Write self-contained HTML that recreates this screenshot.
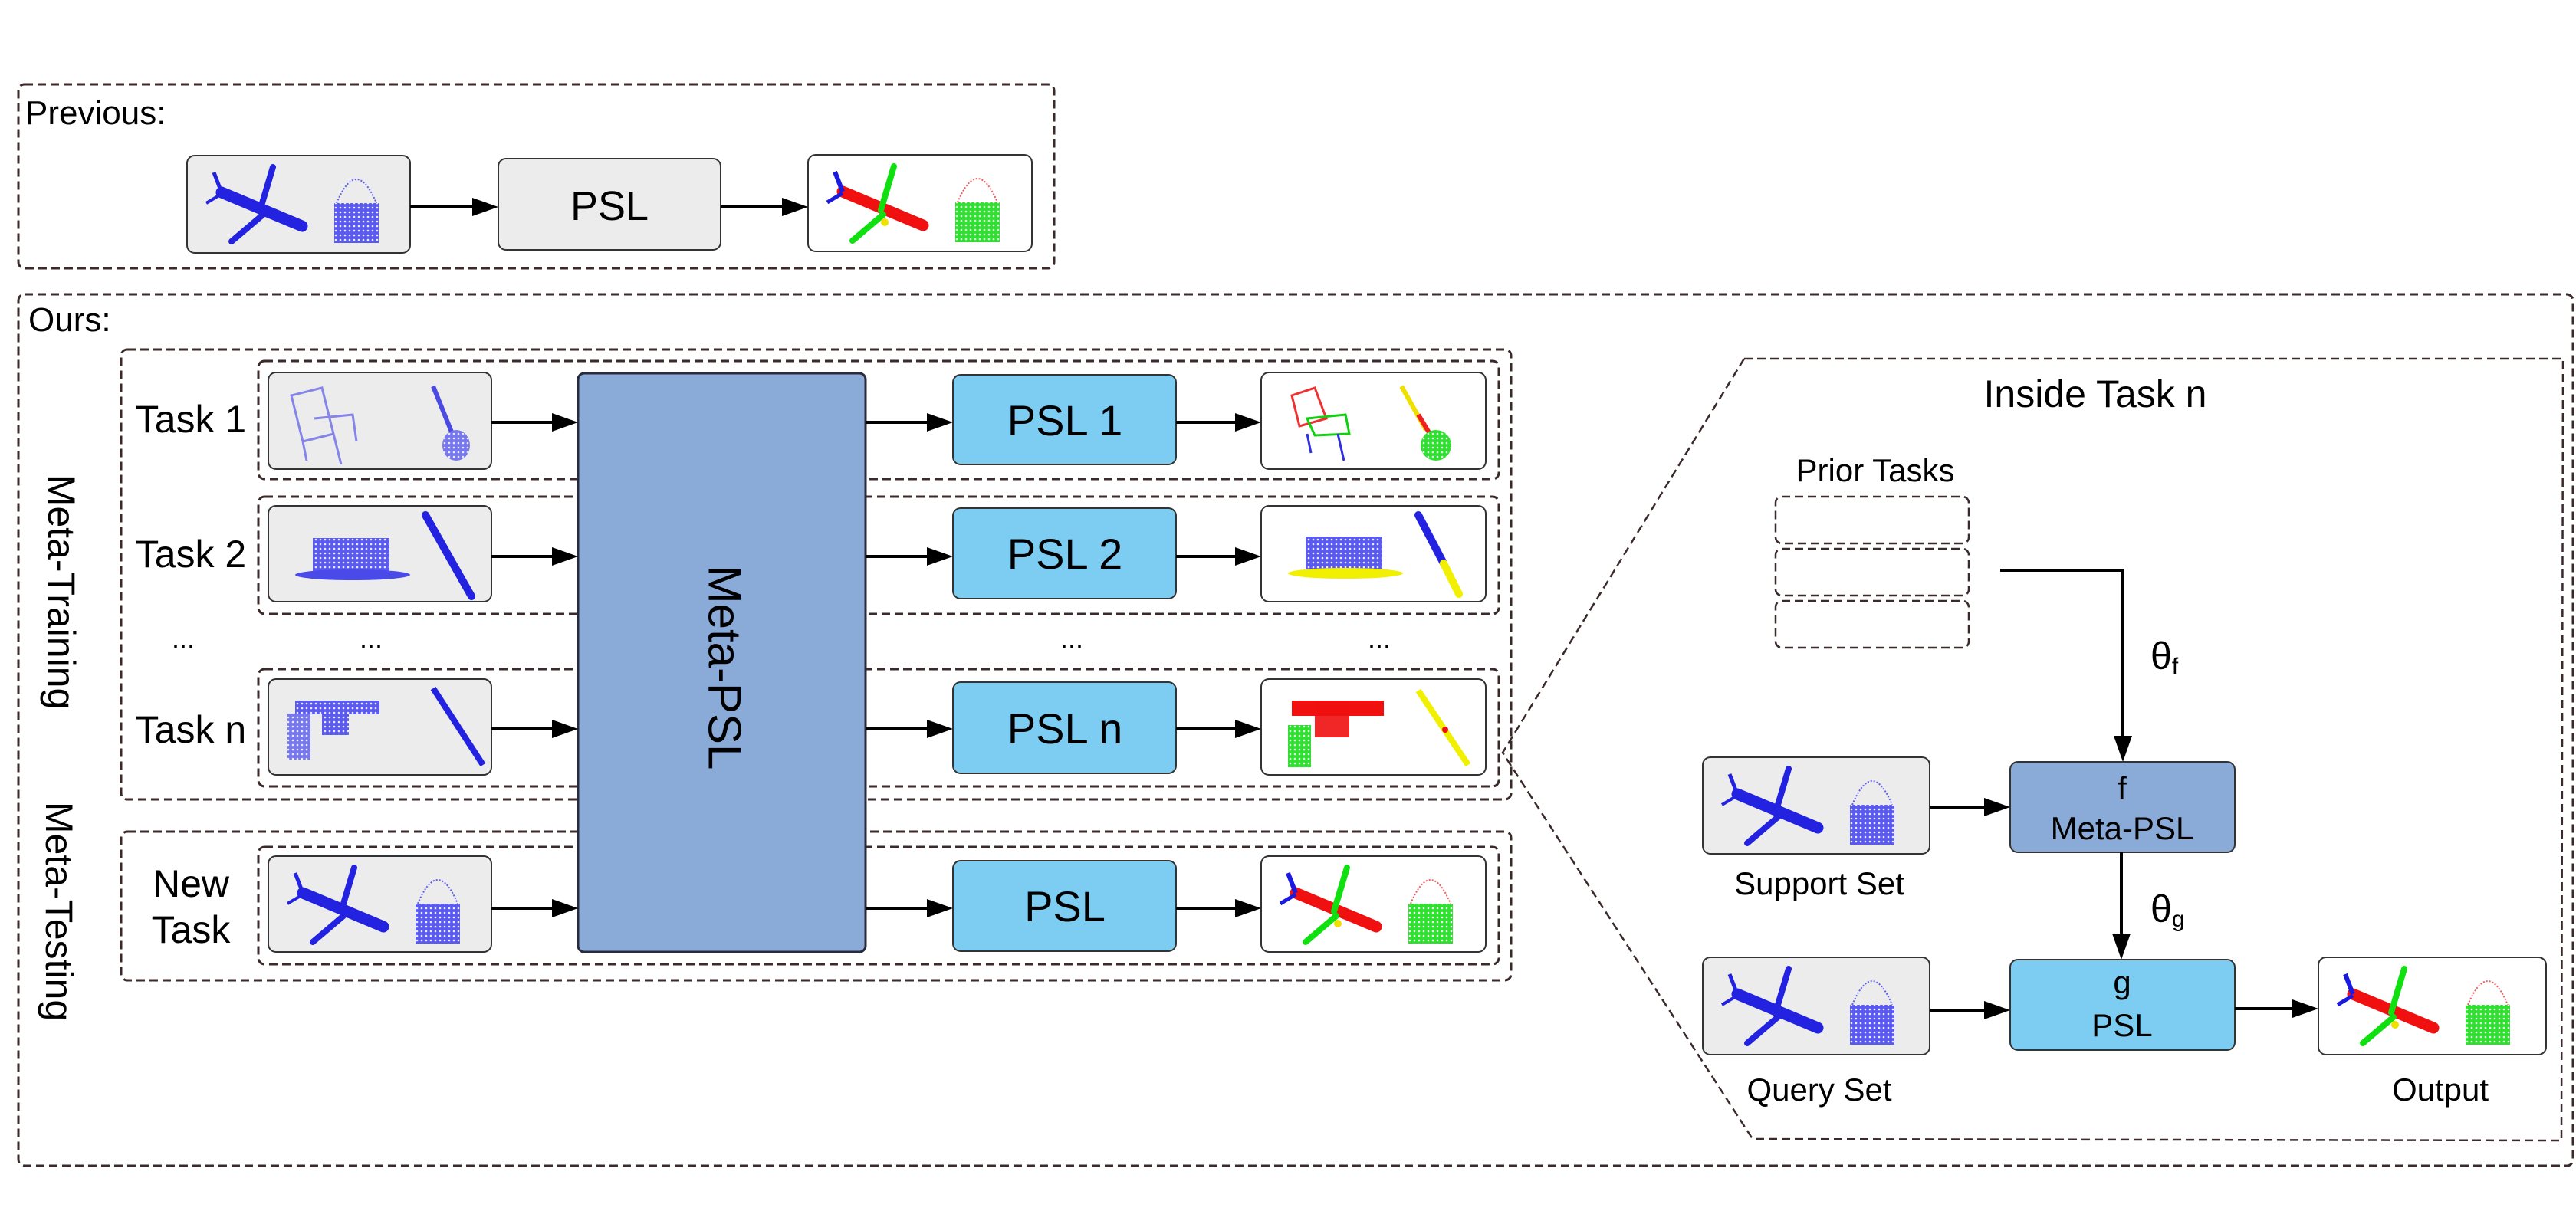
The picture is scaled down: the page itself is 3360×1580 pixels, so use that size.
<!DOCTYPE html>
<html><head><meta charset="utf-8"><style>
html,body{margin:0;padding:0;background:#fff;width:3360px;height:1580px;overflow:hidden}
text{font-family:"Liberation Sans",sans-serif;fill:#000}
</style></head><body>
<svg width="3360" height="1580" viewBox="0 0 3360 1580" xmlns="http://www.w3.org/2000/svg">
<defs>
<pattern id="dotB" width="6" height="6" patternUnits="userSpaceOnUse"><rect width="6" height="6" fill="#5a5af0"/><circle cx="2" cy="2" r="1.3" fill="#eef"/></pattern>
<pattern id="dotG" width="6" height="6" patternUnits="userSpaceOnUse"><rect width="6" height="6" fill="#30e030"/><circle cx="2" cy="2" r="1.3" fill="#efe"/></pattern>
<g id="planeB">
 <line x1="45" y1="48" x2="150" y2="92" stroke="#2222e0" stroke-width="15" stroke-linecap="round"/>
 <line x1="95" y1="72" x2="112" y2="15" stroke="#2222e0" stroke-width="8" stroke-linecap="round"/>
 <line x1="98" y1="78" x2="58" y2="112" stroke="#2222e0" stroke-width="8" stroke-linecap="round"/>
 <line x1="45" y1="48" x2="35" y2="22" stroke="#2222e0" stroke-width="5"/>
 <line x1="45" y1="50" x2="25" y2="62" stroke="#2222e0" stroke-width="4"/>
</g>
<g id="planeS">
 <line x1="45" y1="48" x2="150" y2="92" stroke="#f01010" stroke-width="15" stroke-linecap="round"/>
 <line x1="95" y1="72" x2="112" y2="15" stroke="#10e010" stroke-width="8" stroke-linecap="round"/>
 <line x1="98" y1="78" x2="58" y2="112" stroke="#10e010" stroke-width="8" stroke-linecap="round"/>
 <line x1="45" y1="48" x2="35" y2="22" stroke="#1a1ae0" stroke-width="6"/>
 <line x1="45" y1="50" x2="25" y2="62" stroke="#1a1ae0" stroke-width="5"/>
 <circle cx="100" cy="88" r="5" fill="#f0e000"/>
</g>
<g id="bagB">
 <rect x="192" y="62" width="58" height="52" fill="url(#dotB)"/>
 <path d="M195 62 Q221 0 247 62" fill="none" stroke="#6060f0" stroke-width="2" stroke-dasharray="2 2"/>
</g>
<g id="bagS">
 <rect x="192" y="62" width="58" height="52" fill="url(#dotG)"/>
 <path d="M195 62 Q221 0 247 62" fill="none" stroke="#f06060" stroke-width="2" stroke-dasharray="2 2"/>
</g>
</defs>

<g fill="none" stroke="#3a2a2a" stroke-width="3" stroke-dasharray="11 6">
 <rect x="24" y="110" width="1351" height="240" rx="8"/>
 <rect x="24" y="384" width="3332" height="1137" rx="8"/>
 <rect x="158" y="456" width="1813" height="587" rx="8"/>
 <rect x="158" y="1085" width="1813" height="194" rx="8"/>
 <rect x="337" y="471" width="1618" height="154" rx="8"/>
 <rect x="337" y="648" width="1618" height="153" rx="8"/>
 <rect x="337" y="873" width="1618" height="153" rx="8"/>
 <rect x="337" y="1105" width="1618" height="153" rx="8"/>
 <polygon points="2275,468 3343,468 3341,1488 2286,1486 1960,982" stroke-width="2.5"/>
 <rect x="2316" y="648" width="252" height="61" rx="8" stroke-width="2.5"/>
 <rect x="2316" y="716" width="252" height="61" rx="8" stroke-width="2.5"/>
 <rect x="2316" y="784" width="252" height="61" rx="8" stroke-width="2.5"/>
</g>

<text x="33" y="162" font-size="44">Previous:</text>
<text x="37" y="432" font-size="44">Ours:</text>

<rect x="244" y="203" width="291" height="127" rx="10" fill="#ececec" stroke="#333" stroke-width="2"/>
<g transform="translate(244,203)"><use href="#planeB"/><use href="#bagB"/></g>
<rect x="650" y="207" width="290" height="119" rx="10" fill="#ececec" stroke="#333" stroke-width="2"/>
<text x="795" y="287" font-size="54" text-anchor="middle">PSL</text>
<rect x="1054" y="202" width="292" height="126" rx="10" fill="#fff" stroke="#333" stroke-width="2"/>
<g transform="translate(1054,202)"><use href="#planeS"/><use href="#bagS"/></g>

<g font-size="50" text-anchor="middle">
 <text x="249" y="564">Task 1</text>
 <text x="249" y="740">Task 2</text>
 <text x="249" y="969">Task n</text>
 <text x="249" y="1170">New</text>
 <text x="249" y="1230">Task</text>
 <text x="239" y="845" font-size="36">...</text>
 <text x="484" y="845" font-size="36">...</text>
 <text x="1398" y="845" font-size="36">...</text>
 <text x="1799" y="845" font-size="36">...</text>
</g>
<text transform="translate(80,772) rotate(90)" font-size="50" text-anchor="middle" dominant-baseline="central">Meta-Training</text>
<text transform="translate(77,1189) rotate(90)" font-size="50" text-anchor="middle" dominant-baseline="central">Meta-Testing</text>

<g fill="#ececec" stroke="#333" stroke-width="2">
 <rect x="350" y="486" width="291" height="126" rx="10"/>
 <rect x="350" y="660" width="291" height="125" rx="10"/>
 <rect x="350" y="886" width="291" height="125" rx="10"/>
 <rect x="350" y="1117" width="291" height="125" rx="10"/>
</g>
<g transform="translate(350,486)" stroke="#6a6ae8" fill="none" stroke-width="3" opacity="0.8">
 <path d="M30 30 L70 20 L85 80 L45 90 Z M60 60 L110 55 L115 90 M85 80 L95 120 M45 90 L50 115"/>
 <line x1="215" y1="18" x2="240" y2="80" stroke="#2222e0" stroke-width="6"/>
 <ellipse cx="245" cy="95" rx="18" ry="20" fill="url(#dotB)" stroke="none"/>
</g>
<g transform="translate(350,660)">
 <rect x="58" y="42" width="100" height="48" fill="url(#dotB)"/>
 <ellipse cx="110" cy="90" rx="75" ry="7" fill="#4a4ae8"/>
 <line x1="205" y1="12" x2="265" y2="118" stroke="#2222e0" stroke-width="10" stroke-linecap="round"/>
</g>
<g transform="translate(350,886)">
 <rect x="35" y="28" width="110" height="18" fill="url(#dotB)"/>
 <rect x="70" y="28" width="35" height="45" fill="url(#dotB)"/>
 <rect x="25" y="45" width="30" height="60" fill="url(#dotB)" opacity="0.8"/>
 <line x1="215" y1="12" x2="280" y2="112" stroke="#2222e0" stroke-width="8"/>
</g>
<g transform="translate(350,1117)"><use href="#planeB"/><use href="#bagB"/></g>

<rect x="754" y="487" width="375" height="755" rx="8" fill="#8aaad8" stroke="#2a2a3a" stroke-width="3"/>
<text transform="translate(945,871) rotate(90)" font-size="60" text-anchor="middle" dominant-baseline="central">Meta-PSL</text>

<g fill="#7dcdf3" stroke="#333" stroke-width="2">
 <rect x="1243" y="489" width="291" height="117" rx="10"/>
 <rect x="1243" y="663" width="291" height="118" rx="10"/>
 <rect x="1243" y="890" width="291" height="119" rx="10"/>
 <rect x="1243" y="1123" width="291" height="118" rx="10"/>
</g>
<g font-size="56" text-anchor="middle">
 <text x="1389" y="568">PSL 1</text>
 <text x="1389" y="742">PSL 2</text>
 <text x="1389" y="970">PSL n</text>
 <text x="1389" y="1202">PSL</text>
</g>

<g fill="#fff" stroke="#333" stroke-width="2">
 <rect x="1645" y="486" width="293" height="126" rx="10"/>
 <rect x="1645" y="660" width="293" height="125" rx="10"/>
 <rect x="1645" y="886" width="293" height="125" rx="10"/>
 <rect x="1645" y="1117" width="293" height="125" rx="10"/>
</g>
<g transform="translate(1645,486)" fill="none" stroke-width="3">
 <path d="M40 30 L70 20 L85 60 L50 70 Z" stroke="#f03030"/>
 <path d="M60 60 L110 55 L115 80 L70 82 Z" stroke="#10d010"/>
 <path d="M60 80 L65 105 M100 80 L108 115" stroke="#3030e0"/>
 <line x1="183" y1="18" x2="215" y2="75" stroke="#f0e000" stroke-width="6"/>
 <line x1="205" y1="55" x2="220" y2="80" stroke="#f02020" stroke-width="6"/>
 <ellipse cx="228" cy="95" rx="20" ry="20" fill="url(#dotG)" stroke="none"/>
</g>
<g transform="translate(1645,660)">
 <rect x="58" y="40" width="100" height="45" fill="url(#dotB)"/>
 <ellipse cx="110" cy="88" rx="75" ry="7" fill="#f0f000"/>
 <line x1="205" y1="12" x2="238" y2="75" stroke="#2222e0" stroke-width="10" stroke-linecap="round"/>
 <line x1="238" y1="75" x2="258" y2="115" stroke="#f0f000" stroke-width="10" stroke-linecap="round"/>
</g>
<g transform="translate(1645,886)">
 <rect x="40" y="28" width="120" height="20" fill="#f01010"/>
 <rect x="70" y="28" width="45" height="48" fill="#f01010" opacity="0.9"/>
 <rect x="35" y="60" width="30" height="55" fill="url(#dotG)"/>
 <line x1="205" y1="15" x2="270" y2="112" stroke="#f0f000" stroke-width="8"/>
 <circle cx="240" cy="66" r="4" fill="#f01010"/>
</g>
<g transform="translate(1645,1117)"><use href="#planeS"/><use href="#bagS"/></g>

<text x="2733" y="531" font-size="50" text-anchor="middle">Inside Task n</text>
<text x="2446" y="628" font-size="42" text-anchor="middle">Prior Tasks</text>
<polyline points="2609,744 2769,744 2769,964" fill="none" stroke="#000" stroke-width="4"/>
<polygon points="2757,960 2781,960 2769,994" fill="#000"/>
<text x="2805" y="873" font-size="50">θ<tspan font-size="30" dy="6">f</tspan></text>

<rect x="2221" y="988" width="296" height="126" rx="10" fill="#ececec" stroke="#333" stroke-width="2"/>
<g transform="translate(2221,988)"><use href="#planeB"/><use href="#bagB"/></g>
<text x="2373" y="1167" font-size="42" text-anchor="middle">Support Set</text>

<rect x="2622" y="994" width="293" height="118" rx="10" fill="#8aaad8" stroke="#333" stroke-width="2"/>
<text x="2768" y="1043" font-size="42" text-anchor="middle">f</text>
<text x="2768" y="1095" font-size="42" text-anchor="middle">Meta-PSL</text>

<line x1="2767" y1="1112" x2="2767" y2="1222" stroke="#000" stroke-width="4"/>
<polygon points="2755,1218 2779,1218 2767,1252" fill="#000"/>
<text x="2805" y="1203" font-size="50">θ<tspan font-size="30" dy="6">g</tspan></text>

<rect x="2221" y="1249" width="296" height="127" rx="10" fill="#ececec" stroke="#333" stroke-width="2"/>
<g transform="translate(2221,1249)"><use href="#planeB"/><use href="#bagB"/></g>
<text x="2373" y="1436" font-size="42" text-anchor="middle">Query Set</text>

<rect x="2622" y="1252" width="293" height="118" rx="10" fill="#7dcdf3" stroke="#333" stroke-width="2"/>
<text x="2768" y="1296" font-size="42" text-anchor="middle">g</text>
<text x="2768" y="1352" font-size="42" text-anchor="middle">PSL</text>

<rect x="3024" y="1249" width="297" height="127" rx="10" fill="#fff" stroke="#333" stroke-width="2"/>
<g transform="translate(3024,1249)"><use href="#planeS"/><use href="#bagS"/></g>
<text x="3183" y="1436" font-size="42" text-anchor="middle">Output</text>

<g stroke="#000" stroke-width="4">
 <line x1="535" y1="270" x2="620" y2="270"/>
 <line x1="940" y1="270" x2="1024" y2="270"/>
 <line x1="641" y1="551" x2="724" y2="551"/>
 <line x1="641" y1="726" x2="724" y2="726"/>
 <line x1="641" y1="951" x2="724" y2="951"/>
 <line x1="641" y1="1185" x2="724" y2="1185"/>
 <line x1="1129" y1="551" x2="1213" y2="551"/>
 <line x1="1129" y1="726" x2="1213" y2="726"/>
 <line x1="1129" y1="951" x2="1213" y2="951"/>
 <line x1="1129" y1="1185" x2="1213" y2="1185"/>
 <line x1="1534" y1="551" x2="1615" y2="551"/>
 <line x1="1534" y1="726" x2="1615" y2="726"/>
 <line x1="1534" y1="951" x2="1615" y2="951"/>
 <line x1="1534" y1="1185" x2="1615" y2="1185"/>
 <line x1="2517" y1="1053" x2="2592" y2="1053"/>
 <line x1="2517" y1="1318" x2="2592" y2="1318"/>
 <line x1="2915" y1="1316" x2="2994" y2="1316"/>
</g>
<g fill="#000">
 <polygon points="616,258 650,270 616,282"/>
 <polygon points="1020,258 1054,270 1020,282"/>
 <polygon points="720,539 754,551 720,563"/>
 <polygon points="720,714 754,726 720,738"/>
 <polygon points="720,939 754,951 720,963"/>
 <polygon points="720,1173 754,1185 720,1197"/>
 <polygon points="1209,539 1243,551 1209,563"/>
 <polygon points="1209,714 1243,726 1209,738"/>
 <polygon points="1209,939 1243,951 1209,963"/>
 <polygon points="1209,1173 1243,1185 1209,1197"/>
 <polygon points="1611,539 1645,551 1611,563"/>
 <polygon points="1611,714 1645,726 1611,738"/>
 <polygon points="1611,939 1645,951 1611,963"/>
 <polygon points="1611,1173 1645,1185 1611,1197"/>
 <polygon points="2588,1041 2622,1053 2588,1065"/>
 <polygon points="2588,1306 2622,1318 2588,1330"/>
 <polygon points="2990,1304 3024,1316 2990,1328"/>
</g>
</svg>
</body></html>
